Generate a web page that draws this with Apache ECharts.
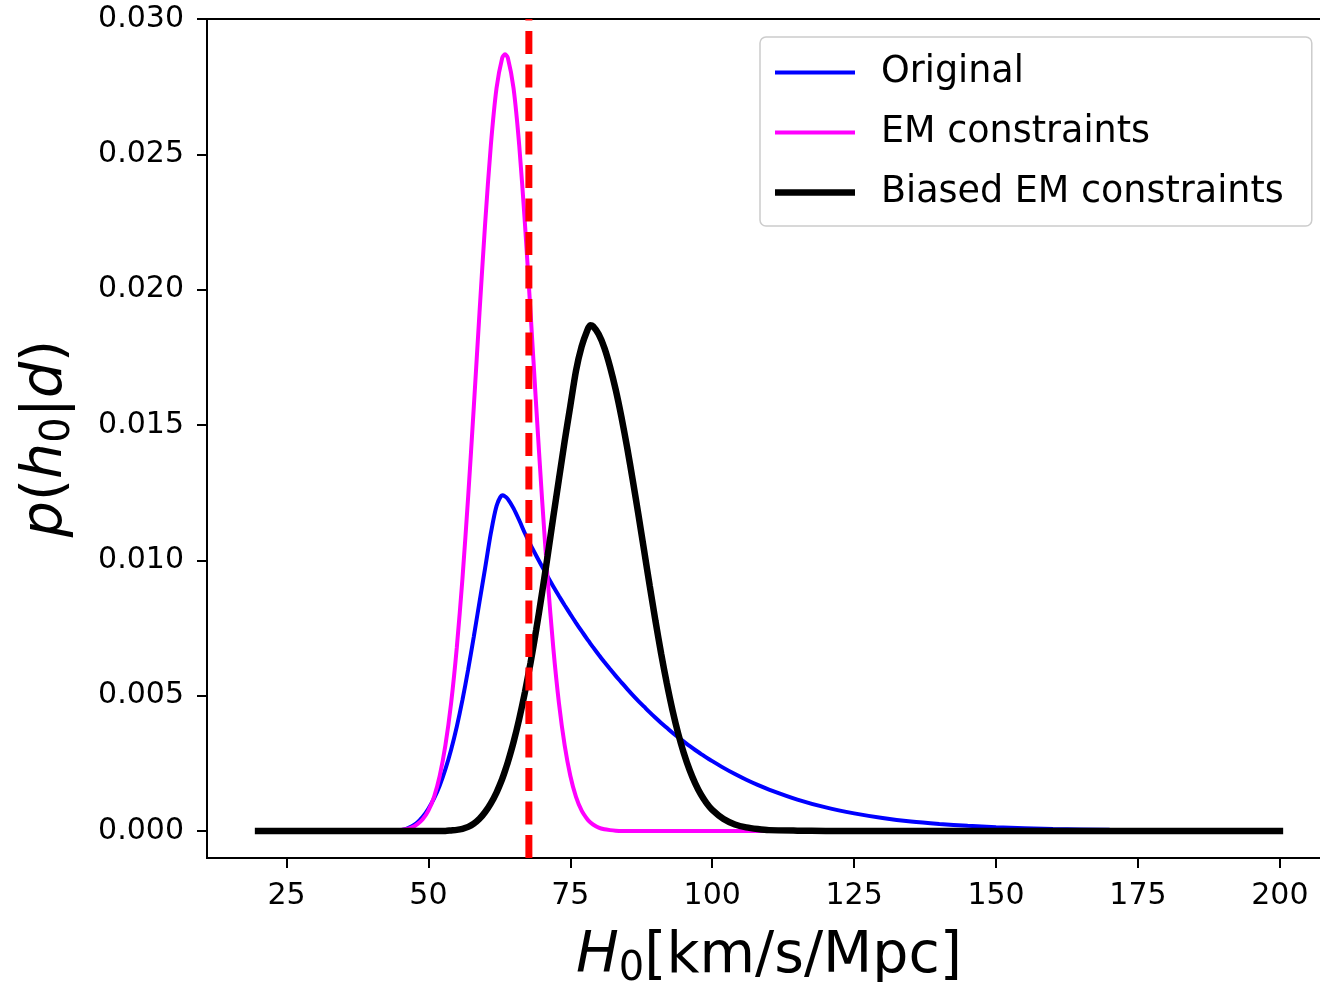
<!DOCTYPE html>
<html>
<head>
<meta charset="utf-8">
<script src="https://cdn.jsdelivr.net/npm/echarts/dist/echarts.min.js"></script>
<style>
html, body { margin: 0; padding: 0; background: #fff; }
#chart { width: 1320px; height: 982px; }
</style>
</head>
<body>
<div id="chart"></div>
<script>
// H0 grid (km/s/Mpc)
const h0 = [20, 25, 30, 35, 40, 42,
  44, 45, 46, 47, 48, 49, 50, 51, 52, 53,
  54, 55, 56, 57, 58, 59, 60, 61, 62, 63, 63.5,
  64, 65, 66, 67, 68, 69, 70, 71, 72, 73,
  74, 75, 76, 77, 78, 78.5, 79, 80, 81, 82, 83,
  84, 85, 86, 87, 88, 89, 90, 91, 92, 93,
  94, 95, 96, 97, 98, 99, 100,
  102, 104, 106, 108, 110, 115, 120, 125, 130, 135, 140, 145, 150, 160, 170, 180, 190, 200];

const pOriginal = [0, 0, 0, 0, 0, 0,
  0.00001, 0.00003, 0.00007, 0.00016, 0.00030, 0.00052, 0.00082, 0.00120, 0.00168, 0.00228,
  0.00300, 0.00385, 0.00484, 0.00596, 0.00718, 0.00846, 0.00972, 0.01100, 0.01200, 0.01240, 0.01236,
  0.01226, 0.01192, 0.01148, 0.01100, 0.01057, 0.01017, 0.00978, 0.00940, 0.00903, 0.00868,
  0.00834, 0.00801, 0.00769, 0.00738, 0.00708, 0.00693, 0.00679, 0.00651, 0.00624, 0.00598, 0.00573,
  0.00549, 0.00525, 0.00502, 0.00480, 0.00459, 0.00438, 0.00418, 0.00399, 0.00381, 0.00363,
  0.00346, 0.00330, 0.00314, 0.00299, 0.00285, 0.00271, 0.00258,
  0.00233, 0.00210, 0.00189, 0.00170, 0.00153, 0.00116, 0.00087, 0.00065, 0.00048, 0.00035, 0.00026, 0.00019, 0.00014, 0.00007, 0.00004, 0.00002, 0.00001, 0];

const pEM = [0, 0, 0, 0, 0, 0,
  0.00001, 0.00003, 0.00006, 0.00012, 0.00024, 0.00043, 0.00075, 0.00126, 0.00204, 0.00317,
  0.00472, 0.00677, 0.00932, 0.01233, 0.01567, 0.01914, 0.02246, 0.02533, 0.02744, 0.02856, 0.02870,
  0.02856, 0.02744, 0.02533, 0.02246, 0.01914, 0.01567, 0.01233, 0.00932, 0.00677, 0.00472,
  0.00317, 0.00204, 0.00126, 0.00075, 0.00043, 0.00032, 0.00024, 0.00012, 0.00006, 0.00003, 0.00001,
  0, 0, 0, 0, 0, 0, 0, 0, 0, 0,
  0, 0, 0, 0, 0, 0, 0,
  0, 0, 0, 0, 0, 0, 0, 0, 0, 0, 0, 0, 0, 0, 0, 0, 0, 0];

const pBiased = [0, 0, 0, 0, 0, 0,
  0, 0, 0, 0, 0, 0, 0, 0, 0, 0,
  0.00002, 0.00004, 0.00008, 0.00015, 0.00027, 0.00045, 0.00070, 0.00102, 0.00142, 0.00192, 0.00222,
  0.00254, 0.00328, 0.00414, 0.00512, 0.00622, 0.00744, 0.00876, 0.01016, 0.01160, 0.01300,
  0.01440, 0.01570, 0.01700, 0.01790, 0.01850, 0.01868, 0.01865, 0.01835, 0.01785, 0.01715, 0.01630,
  0.01530, 0.01418, 0.01296, 0.01168, 0.01036, 0.00904, 0.00776, 0.00655, 0.00545, 0.00446,
  0.00360, 0.00287, 0.00226, 0.00176, 0.00135, 0.00103, 0.00078,
  0.00044, 0.00024, 0.00013, 0.00007, 0.00003, 0.00001, 0, 0, 0, 0, 0, 0, 0, 0, 0, 0, 0, 0];

const h0Reference = 67.7;          // vertical dashed line
const xTicks = [25, 50, 75, 100, 125, 150, 175, 200];
const yTicks = [0, 0.005, 0.010, 0.015, 0.020, 0.025, 0.030];
const xRange = [11, 209];
const yRange = [-0.001, 0.030];

const seriesNames = ['Original', 'EM constraints', 'Biased EM constraints'];
const seriesColors = ['#0000ff', '#ff00ff', '#000000'];

function pairs(xs, ys) { return xs.map((x, i) => [x, ys[i]]); }

const FONT = 'DejaVu Sans';
const nameRich = {
  i: { fontFamily: FONT, fontStyle: 'italic', fontSize: 57, color: '#000' },
  n: { fontFamily: FONT, fontSize: 57, color: '#000' },
  s: { fontFamily: FONT, fontSize: 40, color: '#000', padding: [26, 0, 0, 0] }
};

const chart = echarts.init(document.getElementById('chart'), null, { renderer: 'canvas' });
chart.setOption({
  animation: false,
  backgroundColor: '#ffffff',
  grid: {
    left: 207, top: 19, width: 1124, height: 839,
    outerBoundsMode: 'none', containLabel: false,
    show: true, borderColor: '#000', borderWidth: 2, backgroundColor: 'transparent'
  },
  legend: {
    orient: 'vertical',
    left: 760, top: 37,
    padding: [17, 28, 15, 15],
    itemWidth: 80, itemHeight: 14, itemGap: 23,
    symbolKeepAspect: true,
    backgroundColor: 'rgba(255,255,255,0.8)',
    borderColor: '#cccccc', borderWidth: 1.5, borderRadius: 6,
    textStyle: { fontFamily: FONT, fontSize: 36.5, color: '#000', padding: [0, 0, 0, 21] },
    data: [
      { name: seriesNames[0], icon: 'path://M0,0H80V4H0Z', itemStyle: { color: seriesColors[0] } },
      { name: seriesNames[1], icon: 'path://M0,0H80V4H0Z', itemStyle: { color: seriesColors[1] } },
      { name: seriesNames[2], icon: 'path://M0,0H80V6.5H0Z', itemStyle: { color: seriesColors[2] } }
    ]
  },
  xAxis: {
    type: 'value', min: xRange[0], max: xRange[1],
    axisLine: { show: true, onZero: false, lineStyle: { color: '#000', width: 2 } },
    axisTick: { show: true, length: 10, lineStyle: { color: '#000', width: 2 }, customValues: xTicks },
    axisLabel: { customValues: xTicks, fontFamily: FONT, fontSize: 30, color: '#000', margin: 23 },
    splitLine: { show: false },
    name: '{i|H}{s|0}{n|[km/s/Mpc]}',
    nameLocation: 'middle', nameGap: 66,
    nameTextStyle: { rich: nameRich }
  },
  yAxis: {
    type: 'value', min: yRange[0], max: yRange[1],
    axisLine: { show: true, onZero: false, lineStyle: { color: '#000', width: 2 } },
    axisTick: { show: true, length: 10, lineStyle: { color: '#000', width: 2 }, customValues: yTicks },
    axisLabel: { customValues: yTicks, fontFamily: FONT, fontSize: 30, color: '#000', margin: 23,
      formatter: v => v.toFixed(3) },
    splitLine: { show: false },
    name: '{i|p}{n|(}{i|h}{s|0}{n||}{i|d}{n|)}',
    nameLocation: 'middle', nameGap: 128,
    nameTextStyle: { rich: nameRich }
  },
  series: [
    { name: seriesNames[0], type: 'line', data: pairs(h0, pOriginal), symbol: 'none', showSymbol: false, smooth: 0.25,
      lineStyle: { color: seriesColors[0], width: 4, cap: 'square' }, itemStyle: { color: seriesColors[0] } },
    { name: seriesNames[1], type: 'line', data: pairs(h0, pEM), symbol: 'none', showSymbol: false, smooth: 0.25,
      lineStyle: { color: seriesColors[1], width: 4, cap: 'square' }, itemStyle: { color: seriesColors[1] } },
    { name: seriesNames[2], type: 'line', data: pairs(h0, pBiased), symbol: 'none', showSymbol: false, smooth: 0.25,
      lineStyle: { color: seriesColors[2], width: 6.5, cap: 'square' }, itemStyle: { color: seriesColors[2] } },
    { name: 'reference', type: 'line', data: [[h0Reference, yRange[0]], [h0Reference, yRange[1]]],
      symbol: 'none', showSymbol: false, silent: true,
      lineStyle: { color: '#ff0000', width: 7, type: [23, 10.5] }, itemStyle: { color: '#ff0000' } }
  ]
});
</script>
</body>
</html>
